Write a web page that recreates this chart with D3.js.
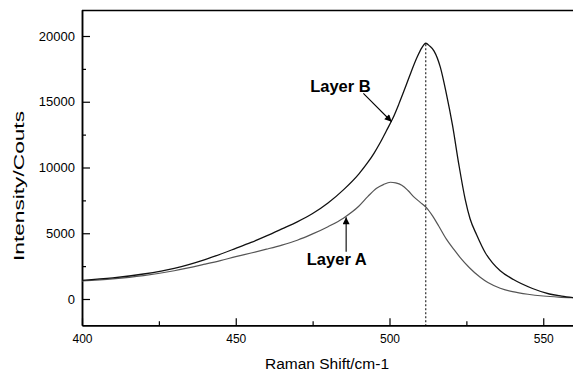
<!DOCTYPE html>
<html>
<head>
<meta charset="utf-8">
<script src="https://cdn.jsdelivr.net/npm/d3@7"></script>
<style>
  body { margin: 0; background: #fff; }
  svg { display: block; font-family: "Liberation Sans", Arial, sans-serif; }
</style>
</head>
<body>
<svg id="chart" width="573" height="374"></svg>
<script>
// Raman spectra
const shiftA = [400, 410, 420, 430, 440, 445, 450, 455, 460, 465, 470, 475, 480, 485, 490, 493, 495.8, 498, 500.3, 502, 504, 506, 508, 510, 512, 514, 516, 518.5, 521, 523, 526, 529.5, 532, 536, 540, 545, 550, 555, 560];
const intensityA = [1370, 1530, 1780, 2150, 2650, 2920, 3220, 3500, 3790, 4100, 4470, 4950, 5500, 6150, 7050, 7800, 8420, 8700, 8880, 8830, 8650, 8250, 7750, 7350, 6950, 6320, 5550, 4550, 3750, 3150, 2380, 1650, 1250, 820, 560, 360, 230, 150, 100];

const shiftB = [400, 410, 420, 430, 440, 450, 455, 460, 465, 470, 475, 480, 485, 490, 493, 495, 497, 499, 501, 503, 505, 507, 509, 510.5, 511.8, 513, 514.5, 516.5, 518.5, 520.5, 522.5, 524.6, 526.2, 528.4, 531.2, 533.5, 536, 540.3, 546.5, 552, 556, 560];
const intensityB = [1420, 1600, 1900, 2330, 3000, 3850, 4300, 4800, 5330, 5870, 6500, 7300, 8300, 9500, 10400, 11100, 11900, 12800, 13700, 14800, 16000, 17250, 18400, 19100, 19450, 19250, 18850, 17650, 15600, 13200, 10300, 7600, 6100, 4850, 3500, 2750, 2150, 1480, 800, 380, 220, 90];

const xTicks = [400, 450, 500, 550];
const xMinorTicks = [425, 475, 525];
const yTicks = [0, 5000, 10000, 15000, 20000];
const yMinorTicks = [2500, 7500, 12500, 17500];
const peakShift = 511.8;

// label anchors in data units
const labelB = { text: 'Layer B', x: 474.2, y: 15765, from: [491.5, 15640], to: [500.7, 13480] };
const labelA = { text: 'Layer A', x: 473.1, y: 2585, from: [485.9, 3600], to: [485.9, 6213] };

const svg = d3.select('#chart');
const plotLeft = 82, plotRight = 574, plotTop = 9.7, plotBottom = 325.3;

const x = d3.scaleLinear().domain([400, 560]).range([plotLeft, plotRight]);
const y = d3.scaleLinear().domain([-2000, 22000]).range([plotBottom, plotTop]);

const defs = svg.append('defs');
defs.append('clipPath').attr('id', 'plot')
  .append('rect').attr('x', plotLeft).attr('y', plotTop)
  .attr('width', plotRight - plotLeft).attr('height', plotBottom - plotTop);

defs.append('marker')
  .attr('id', 'head').attr('viewBox', '0 0 10 10').attr('refX', 10).attr('refY', 5)
  .attr('markerWidth', 9).attr('markerHeight', 7).attr('markerUnits', 'userSpaceOnUse')
  .attr('orient', 'auto')
  .append('path').attr('d', 'M0,0L10,5L0,10z').attr('fill', '#000');

// frame: top line only
svg.append('line')
  .attr('x1', plotLeft).attr('x2', 573).attr('y1', plotTop + 0.8).attr('y2', plotTop + 0.8)
  .attr('stroke', '#000').attr('stroke-width', 1.5);

// axes with inward ticks
const xAxis = svg.append('g').attr('transform', `translate(0,${plotBottom})`)
  .call(d3.axisBottom(x).tickValues(xTicks).tickSizeInner(-7).tickSizeOuter(0).tickPadding(9));
const xMinor = svg.append('g').attr('transform', `translate(0,${plotBottom})`)
  .call(d3.axisBottom(x).tickValues(xMinorTicks).tickSizeInner(-4).tickSizeOuter(0).tickFormat(''));
const yAxis = svg.append('g').attr('transform', `translate(${plotLeft},0)`)
  .call(d3.axisLeft(y).tickValues(yTicks).tickSizeInner(-8).tickSizeOuter(0).tickPadding(7).tickFormat(d3.format('d')));
const yMinor = svg.append('g').attr('transform', `translate(${plotLeft},0)`)
  .call(d3.axisLeft(y).tickValues(yMinorTicks).tickSizeInner(-4).tickSizeOuter(0).tickFormat(''));

[xAxis, xMinor, yAxis, yMinor].forEach((g) => {
  g.select('.domain').attr('stroke', '#000').attr('stroke-width', 1.5);
  g.selectAll('.tick line').attr('stroke', '#000').attr('stroke-width', 1.2);
});
xAxis.selectAll('.tick text').attr('font-size', 12).attr('fill', '#000');
yAxis.selectAll('.tick text').attr('font-size', 13).attr('fill', '#000');

// axis titles
svg.append('text')
  .attr('x', 327).attr('y', 369).attr('text-anchor', 'middle')
  .attr('font-size', 15.5).attr('fill', '#000')
  .text('Raman Shift/cm-1');

svg.append('text')
  .attr('transform', 'translate(24,186) rotate(-90)')
  .attr('text-anchor', 'middle')
  .attr('font-size', 15).attr('fill', '#000')
  .attr('textLength', 150).attr('lengthAdjust', 'spacingAndGlyphs')
  .text('Intensity/Couts');

// curves
const plot = svg.append('g').attr('clip-path', 'url(#plot)');
const line = d3.line().x((d) => x(d[0])).y((d) => y(d[1])).curve(d3.curveMonotoneX);

plot.append('path')
  .datum(d3.zip(shiftA, intensityA))
  .attr('d', line).attr('fill', 'none')
  .attr('stroke', '#555').attr('stroke-width', 1.2);

plot.append('path')
  .datum(d3.zip(shiftB, intensityB))
  .attr('d', line).attr('fill', 'none')
  .attr('stroke', '#111').attr('stroke-width', 1.3);

// dotted marker at the Layer B peak
plot.append('line')
  .attr('x1', x(peakShift)).attr('x2', x(peakShift))
  .attr('y1', y(d3.max(intensityB)) + 1).attr('y2', plotBottom)
  .attr('stroke', '#000').attr('stroke-width', 1).attr('stroke-dasharray', '2,2');

// annotations
[labelB, labelA].forEach((lab) => {
  svg.append('text')
    .attr('x', x(lab.x)).attr('y', y(lab.y))
    .attr('font-size', 16.5).attr('font-weight', 'bold').attr('fill', '#000')
    .text(lab.text);
  svg.append('line')
    .attr('x1', x(lab.from[0])).attr('y1', y(lab.from[1]))
    .attr('x2', x(lab.to[0])).attr('y2', y(lab.to[1]))
    .attr('stroke', '#000').attr('stroke-width', 1.1)
    .attr('marker-end', 'url(#head)');
});
</script>
</body>
</html>
